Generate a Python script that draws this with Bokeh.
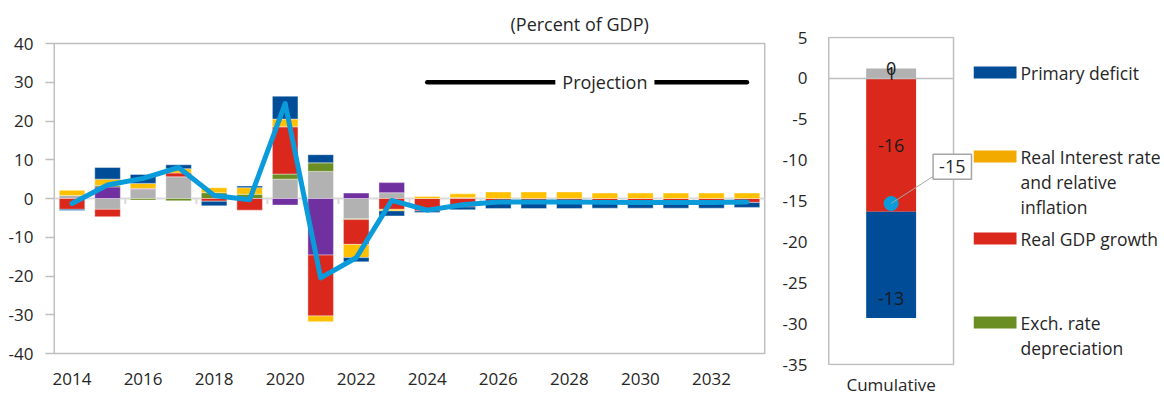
import numpy as np
from bokeh.plotting import figure
from bokeh.layouts import row
from bokeh.models import Range1d, FixedTicker, Label
from bokeh.embed import file_html
from bokeh.resources import INLINE
from bokeh.core.properties import value

FONT = "Open Sans"
TXT = "#262626"

# ---------------- data ----------------
years = list(range(2014, 2034))
# components (percent of GDP), stacking order bottom -> top
residual = [0.8, -2.8, 2.3, 5.6, 0.0, 0.0, 5.0, 7.0, -5.2, 1.5, 0.0, 0.2,
            0, 0, 0, 0, 0, 0, 0, 0]
other_flows = [0.0, 3.0, 0.3, 0.0, 0.0, 0.0, -1.7, -14.6, 1.4, 2.6, 0, 0,
               0, 0, 0, 0, 0, 0, 0, 0]
exch_rate = [0.0, 0.4, -0.4, -0.6, 1.5, 1.1, 1.3, 2.2, -0.25, 0.0, 0, 0,
             0, 0, 0, 0, 0, 0, 0, 0]
real_gdp = [-2.8, -1.9, 0.0, 1.0, -0.7, -3.0, 12.2, -15.7, -6.4, -2.8, -3.2, -2.2,
            -1.2, -1.2, -1.2, -1.2, -1.2, -1.2, -1.2, -1.0]
real_interest = [1.3, 1.6, 1.3, 1.1, 1.3, 1.7, 2.0, -1.5, -3.4, -0.4, 0.5, 1.0,
                 1.7, 1.7, 1.7, 1.4, 1.4, 1.4, 1.4, 1.4]
primary_deficit = [-0.3, 3.0, 2.3, 1.0, -1.2, 0.4, 5.9, 2.1, -1.1, -1.3, -0.4, -0.7,
                   -1.4, -1.4, -1.4, -1.3, -1.3, -1.3, -1.3, -1.3]
debt_change = [-1.3, 3.5, 5.2, 8.0, 0.8, -0.3, 24.5, -20.5, -15.3, -0.5, -3.0, -1.6,
               -0.9, -0.9, -0.9, -1.0, -1.0, -1.0, -1.0, -0.9]

series = [residual, other_flows, exch_rate, real_gdp, real_interest, primary_deficit]
bar_colors = ["#B2B2B2", "#7030A0", "#6B8E23", "#DA291C", "#FFC000", "#004C97"]

y_ticks = [-40, -30, -20, -10, 0, 10, 20, 30, 40]
x_ticks = [2014, 2016, 2018, 2020, 2022, 2024, 2026, 2028, 2030, 2032]
proj_start, proj_end, proj_level = 2024, 2033, 30

# cumulative panel
cum_residual = 1.2
cum_real_gdp = -16.3
cum_primary = -13.0
cum_zero_items = 0.0
cum_debt_change = -15.3
cum_ticks = [-35, -30, -25, -20, -15, -10, -5, 0, 5]

legend_labels = [["Primary deficit"],
                 ["Real Interest rate", "and relative", "inflation"],
                 ["Real GDP growth"],
                 ["Exch. rate", "depreciation"]]
legend_colors = ["#004C97", "#F2A900", "#DA291C", "#6B8E23"]

LINE_BLUE = "#0A9BDB"
BOX = "#BFBFBF"

# ---------------- layout geometry (pixels) ----------------
H = 400
FT, FB = 36, 365            # common frame top / bottom for all panels
# main panel: value range [-40, 40] drawn between y=43 and y=353
m_top, m_bot = 43, 353
m_scale = (m_bot - m_top) / 80.0
m_yr = Range1d(-40 - (FB - m_bot) / m_scale, 40 + (m_top - FT) / m_scale)
# cumulative panel: value range [-35, 5] between y=37 and y=364
c_top, c_bot = 37, 364
c_scale = (c_bot - c_top) / 40.0
c_yr = Range1d(-35 - (FB - c_bot) / c_scale, 5 + (c_top - FT) / c_scale)

# ---------------- main chart ----------------
p1 = figure(width=775, height=H, output_backend="svg", toolbar_location=None,
            x_range=Range1d(2013.45, 2033.55), y_range=m_yr,
            min_border_left=52, min_border_right=9, min_border_top=FT,
            min_border_bottom=H - FB)
p1.outline_line_color = None
p1.xgrid.visible = False
p1.ygrid.visible = False

p1.title.text = "(Percent of GDP)"
p1.title.align = "left"
p1.title.offset = 458
p1.title.text_font = FONT
p1.title.text_font_size = "18px"
p1.title.text_font_style = "normal"
p1.title.text_color = TXT
p1.title.standoff = 2

p1.yaxis.ticker = FixedTicker(ticks=y_ticks)
p1.yaxis.major_label_overrides = {t: str(t) for t in y_ticks}
p1.yaxis.axis_line_color = None
p1.yaxis.major_tick_line_color = BOX
p1.yaxis.major_tick_line_width = 1.5
p1.yaxis.major_tick_out = 7
p1.yaxis.major_tick_in = 2
p1.yaxis.minor_tick_line_color = None
p1.yaxis.major_label_standoff = 12
p1.yaxis.major_label_text_font = FONT
p1.yaxis.major_label_text_font_size = "17px"
p1.yaxis.major_label_text_color = TXT

p1.xaxis.ticker = FixedTicker(ticks=x_ticks)
p1.xaxis.axis_line_color = None
p1.xaxis.major_tick_line_color = None
p1.xaxis.minor_tick_line_color = None
p1.xaxis.major_tick_out = 0
p1.xaxis.major_tick_in = 0
p1.xaxis.major_label_standoff = 7
p1.xaxis.major_label_text_font = FONT
p1.xaxis.major_label_text_font_size = "17px"
p1.xaxis.major_label_text_color = TXT

# plot box
p1.quad(left=[years[0] - 0.5], right=[years[-1] + 0.5], bottom=[y_ticks[0]],
        top=[y_ticks[-1]], fill_color=None, line_color=BOX, line_width=1.5)

# zero line and category ticks
yrs = np.array(years, dtype=float)
p1.segment(x0=[yrs[0] - 0.5], y0=[0], x1=[yrs[-1] + 0.5], y1=[0],
           line_color="#D9D9D9", line_width=2)
bounds = yrs[1:-1:2] + 0.5
p1.segment(x0=bounds, y0=np.zeros(len(bounds)), x1=bounds,
           y1=np.full(len(bounds), -1.4), line_color="#D9D9D9", line_width=2)

BW = 0.72
pos_base = np.zeros(len(years))
neg_base = np.zeros(len(years))
for vals, col in zip(series, bar_colors):
    v = np.array(vals, dtype=float)
    pos = np.where(v > 0, v, 0.0)
    neg = np.where(v < 0, v, 0.0)
    mp = pos > 0
    if mp.any():
        p1.vbar(x=yrs[mp], bottom=pos_base[mp], top=(pos_base + pos)[mp], width=BW,
                fill_color=col, line_color="white", line_alpha=0.5, line_width=0.8)
    mn = neg < 0
    if mn.any():
        p1.vbar(x=yrs[mn], top=neg_base[mn], bottom=(neg_base + neg)[mn], width=BW,
                fill_color=col, line_color="white", line_alpha=0.5, line_width=0.8)
    pos_base = pos_base + pos
    neg_base = neg_base + neg

p1.line(x=yrs, y=debt_change, line_color=LINE_BLUE, line_width=5, line_join="round",
        line_cap="round")

# projection marker
p1.segment(x0=[proj_start], y0=[proj_level], x1=[proj_end], y1=[proj_level],
           line_color="black", line_width=4.5, line_cap="round")
p1.add_layout(Label(x=(proj_start + proj_end) / 2 + 0.5, y=proj_level, text="Projection",
                    text_align="center", text_baseline="middle", text_font=FONT,
                    text_font_size="18px", text_color=TXT,
                    background_fill_color="white", padding=7))

# ---------------- cumulative chart ----------------
p2 = figure(width=198, height=H, output_backend="svg", toolbar_location=None,
            x_range=Range1d(-0.51, 0.66), y_range=c_yr,
            min_border_left=52, min_border_right=0, min_border_top=FT,
            min_border_bottom=H - FB)
p2.outline_line_color = None
p2.xgrid.visible = False
p2.ygrid.visible = False

p2.yaxis.ticker = FixedTicker(ticks=cum_ticks)
p2.yaxis.major_label_overrides = {t: str(t) for t in cum_ticks}
p2.yaxis.axis_line_color = None
p2.yaxis.major_tick_line_color = None
p2.yaxis.minor_tick_line_color = None
p2.yaxis.major_tick_out = 0
p2.yaxis.major_tick_in = 0
p2.yaxis.major_label_standoff = 20
p2.yaxis.major_label_text_font = FONT
p2.yaxis.major_label_text_font_size = "17px"
p2.yaxis.major_label_text_color = TXT

p2.xaxis.ticker = FixedTicker(ticks=[0])
p2.xaxis.major_label_overrides = {0: "Cumulative"}
p2.xaxis.axis_line_color = None
p2.xaxis.major_tick_line_color = None
p2.xaxis.minor_tick_line_color = None
p2.xaxis.major_tick_out = 0
p2.xaxis.major_tick_in = 0
p2.xaxis.major_label_standoff = 7
p2.xaxis.major_label_text_font = FONT
p2.xaxis.major_label_text_font_size = "17px"
p2.xaxis.major_label_text_color = TXT

p2.quad(left=[-0.5], right=[0.5], bottom=[cum_ticks[0]], top=[cum_ticks[-1]],
        fill_color=None, line_color=BOX, line_width=1.5)

CBW = 0.4
p2.vbar(x=[0], bottom=[0], top=[cum_residual], width=CBW, fill_color="#B2B2B2",
        line_color=None)
p2.vbar(x=[0], bottom=[cum_real_gdp], top=[0], width=CBW, fill_color="#DA291C",
        line_color=None)
p2.vbar(x=[0], bottom=[cum_real_gdp + cum_primary], top=[cum_real_gdp], width=CBW,
        fill_color="#004C97", line_color=None)
p2.segment(x0=[-0.5], y0=[0], x1=[0.5], y1=[0], line_color=BOX, line_width=1.5)

lab_y = [cum_residual / 2, cum_residual, cum_real_gdp / 2,
         cum_real_gdp + cum_primary + 2.4]
lab_t = [f"{round(cum_residual):d}", f"{round(cum_zero_items):d}",
         f"{round(cum_real_gdp):d}", f"{round(cum_primary):d}"]
p2.text(x=[0] * len(lab_y), y=lab_y, text=lab_t, text_align="center",
        text_baseline="middle", text_font=value(FONT), text_font_size="18px",
        text_color="#1a1a1a")

p2.scatter(x=[0], y=[cum_debt_change], size=15, fill_color=LINE_BLUE, line_color=None)
p2.segment(x0=[0], y0=[cum_debt_change], x1=[0.335], y1=[cum_debt_change + 3.3],
           line_color="#A6A6A6", line_width=1)
p2.add_layout(Label(x=0.49, y=cum_debt_change + 4.5, text=f"{round(cum_debt_change):d}",
                    text_align="center", text_baseline="middle", text_font=FONT,
                    text_font_size="18px", text_color=TXT,
                    background_fill_color="white", border_line_color="#A6A6A6",
                    border_line_width=1.5, padding=6))

# ---------------- legend panel (data units = page pixels) ----------------
p3 = figure(width=191, height=H, output_backend="svg", toolbar_location=None,
            x_range=Range1d(973, 1164), y_range=Range1d(FB, FT),
            min_border_left=0, min_border_right=0, min_border_top=FT,
            min_border_bottom=H - FB)
p3.outline_line_color = None
p3.axis.visible = False
p3.grid.visible = False

item_y = [72, 156, 238, 322]
line_gap = 25
sw_x, sw_y, sw_c = [], [], []
tx_x, tx_y, tx_t = [], [], []
for lines, yt, col in zip(legend_labels, item_y, legend_colors):
    sw_x.append(994.5)
    sw_y.append(yt)
    sw_c.append(col)
    for k, t in enumerate(lines):
        tx_x.append(1020)
        tx_y.append(yt + k * line_gap)
        tx_t.append(t)
p3.rect(x=sw_x, y=sw_y, width=43, height=12, fill_color=sw_c, line_color=None)
p3.text(x=tx_x, y=tx_y, text=tx_t, text_align="left", text_baseline="middle",
        text_font=value(FONT), text_font_size="17.5px", text_color=TXT)

layout = row(p1, p2, p3)
open("out.html", "w").write(file_html(layout, INLINE))
